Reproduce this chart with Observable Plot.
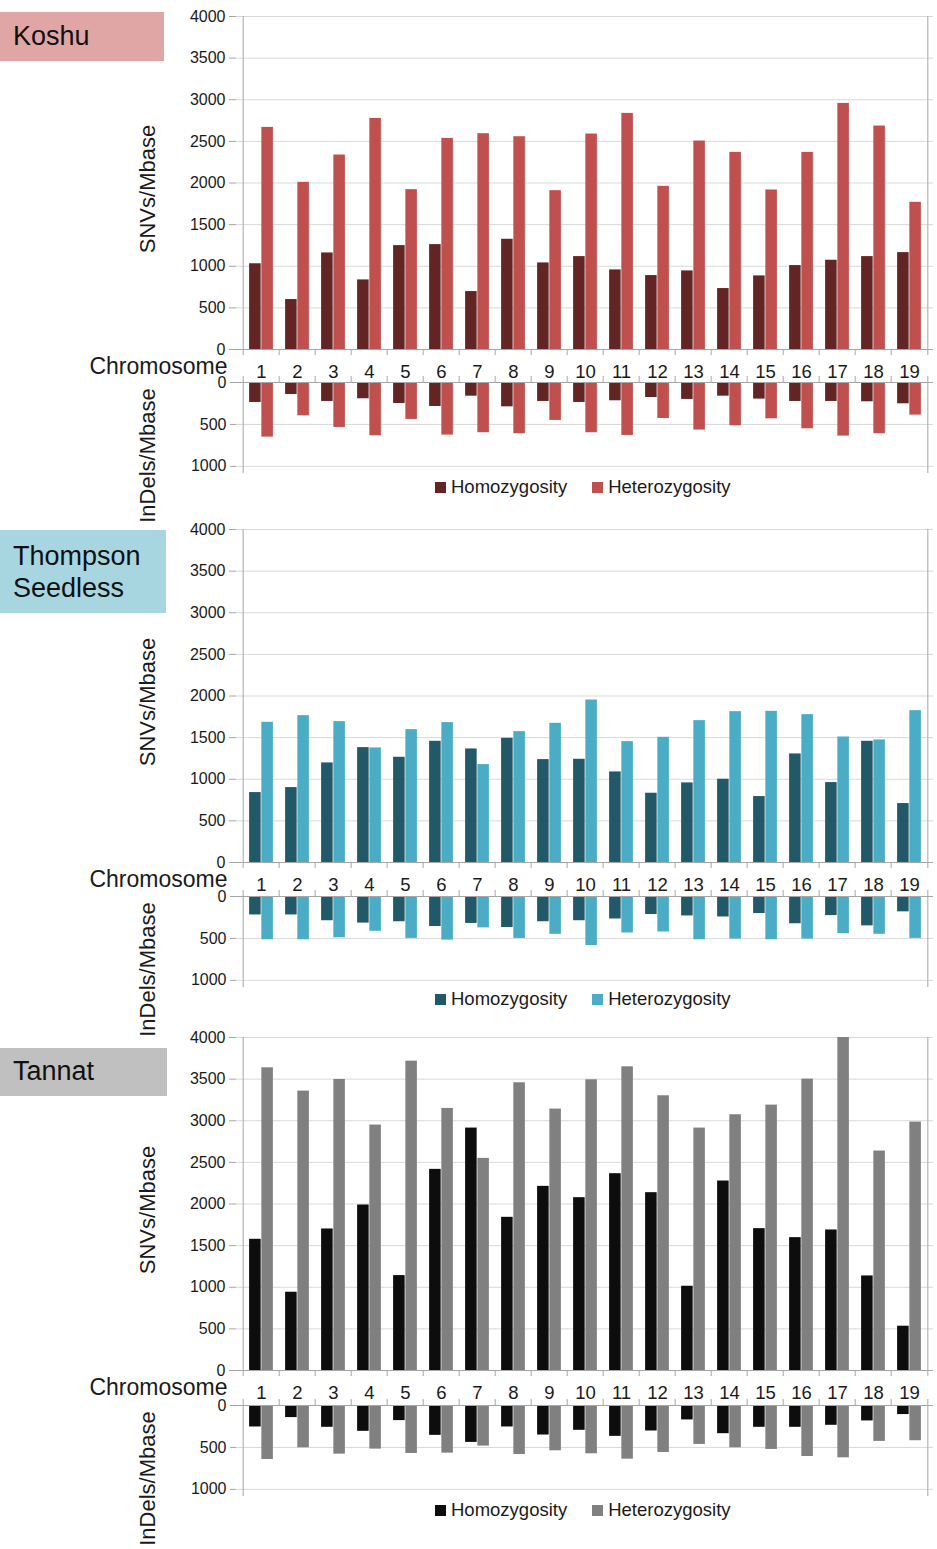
<!DOCTYPE html>
<html><head><meta charset="utf-8">
<script src="https://cdn.jsdelivr.net/npm/d3@7"></script>
<script src="https://cdn.jsdelivr.net/npm/@observablehq/plot@0.6"></script>
<style>
body{margin:0;background:#fff;font-family:"Liberation Sans",Arial,sans-serif;}
#root{position:relative;width:937px;height:1549px;overflow:hidden;background:#fff;}
.panel{position:absolute;left:0;width:937px;height:520px;}
.panel svg{position:absolute;left:0;}
.box{position:absolute;left:0;}
.boxtext{position:absolute;left:13px;font-size:27px;line-height:32px;color:#111;white-space:nowrap;}
.legend{position:absolute;left:435px;display:flex;align-items:center;font-size:18.5px;color:#1a1a1a;white-space:nowrap;}
.sw{width:11px;height:11px;display:inline-block;margin-right:5px;}
</style></head>
<body><div id="root"></div>
<script>
const chromosomes = ["1","2","3","4","5","6","7","8","9","10","11","12","13","14","15","16","17","18","19"];
const seriesNames = ["Homozygosity", "Heterozygosity"];

// Koshu
const koshuSnvHomo  = [1030, 600, 1160, 836, 1248, 1260, 696, 1324, 1040, 1116, 956, 888, 944, 732, 884, 1008, 1072, 1116, 1164];
const koshuSnvHet   = [2668, 2008, 2336, 2776, 1920, 2536, 2592, 2556, 1908, 2588, 2836, 1960, 2504, 2368, 1916, 2368, 2956, 2684, 1768];
const koshuIndelHomo = [238, 143, 226, 194, 250, 286, 163, 290, 226, 238, 218, 179, 202, 163, 198, 226, 226, 230, 254];
const koshuIndelHet  = [651, 397, 536, 635, 440, 627, 599, 611, 452, 599, 631, 429, 567, 516, 433, 552, 639, 611, 389];

// Thompson Seedless
const thompsonSnvHomo = [840, 900, 1196, 1380, 1264, 1456, 1364, 1492, 1236, 1240, 1088, 832, 956, 1000, 792, 1304, 960, 1456, 708];
const thompsonSnvHet  = [1684, 1764, 1692, 1376, 1596, 1680, 1176, 1572, 1672, 1952, 1452, 1504, 1704, 1812, 1816, 1776, 1508, 1472, 1824];
const thompsonIndelHomo = [220, 220, 289, 317, 301, 358, 321, 370, 301, 289, 268, 215, 232, 244, 203, 325, 228, 350, 183];
const thompsonIndelHet  = [516, 516, 492, 415, 500, 520, 374, 500, 451, 585, 435, 423, 516, 508, 516, 508, 443, 451, 500];

// Tannat
const tannatSnvHomo = [1576, 940, 1700, 1988, 1140, 2416, 2912, 1840, 2212, 2076, 2364, 2136, 1012, 2276, 1704, 1596, 1688, 1136, 532];
const tannatSnvHet  = [3636, 3356, 3496, 2948, 3716, 3148, 2548, 3456, 3140, 3492, 3648, 3300, 2912, 3072, 3188, 3500, 4000, 2636, 2984];
const tannatIndelHomo = [256, 144, 260, 308, 180, 356, 440, 256, 352, 296, 368, 304, 172, 336, 260, 260, 236, 184, 108];
const tannatIndelHet  = [644, 504, 580, 520, 572, 568, 484, 584, 540, 576, 640, 560, 464, 504, 524, 608, 624, 428, 420];

const snvTicks = [0, 500, 1000, 1500, 2000, 2500, 3000, 3500, 4000];
const indelTicks = [0, 500, 1000];

const panels = [
  {lines:["Koshu"], top:0, boxTop:11.7, boxH:49.3, boxW:164, boxColor:"#e0a6a6", textTop:20.3,
   homoColor:"#632523", hetColor:"#c0504d",
   snvHomo:koshuSnvHomo, snvHet:koshuSnvHet, indelHomo:koshuIndelHomo, indelHet:koshuIndelHet,
   indelZero:382.3, legendY:487.2},
  {lines:["Thompson","Seedless"], top:513, boxTop:17, boxH:83, boxW:166, boxColor:"#a7d6e1", textTop:26.6,
   homoColor:"#215968", hetColor:"#4bacc6",
   snvHomo:thompsonSnvHomo, snvHet:thompsonSnvHet, indelHomo:thompsonIndelHomo, indelHet:thompsonIndelHet,
   indelZero:382.7, legendY:486},
  {lines:["Tannat"], top:1021.3, boxTop:26.7, boxH:48, boxW:167, boxColor:"#c0c0c0", textTop:34,
   homoColor:"#0d0d0d", hetColor:"#808080",
   snvHomo:tannatSnvHomo, snvHet:tannatSnvHet, indelHomo:tannatIndelHomo, indelHet:tannatIndelHet,
   indelZero:384.2, legendY:489}
];

const W = 937, ML = 236, MR = 4;
const bw = (W - ML - MR) / chromosomes.length;
const pad = bw / 6, barW = bw / 3;
const axisColor = "#a6a6a6", gridColor = "#d9d9d9", textColor = "#1a1a1a";
const font = "'Liberation Sans', Arial, sans-serif";
const fmt = d => String(d);

const root = document.getElementById("root");

for (const p of panels) {
  const panel = document.createElement("div");
  panel.className = "panel";
  panel.style.top = p.top + "px";
  root.appendChild(panel);

  // label box
  const box = document.createElement("div");
  box.className = "box";
  Object.assign(box.style, {top: p.boxTop + "px", height: p.boxH + "px", width: p.boxW + "px", background: p.boxColor});
  panel.appendChild(box);
  const bt = document.createElement("div");
  bt.className = "boxtext";
  bt.style.top = p.textTop + "px";
  bt.innerHTML = p.lines.join("<br>");
  panel.appendChild(bt);

  const snvData = chromosomes.map((c, i) => ({chromosome: c, homo: p.snvHomo[i], het: p.snvHet[i]}));
  const indelData = chromosomes.map((c, i) => ({chromosome: c, homo: p.indelHomo[i], het: p.indelHet[i]}));

  // SNV chart
  const snvMT = 16, snvMB = 41, snvH = 390;
  const snvInner = snvH - snvMT - snvMB;
  const snv = Plot.plot({
    width: W, height: snvH, marginLeft: ML, marginRight: MR, marginTop: snvMT, marginBottom: snvMB,
    style: {background: "transparent", overflow: "visible", fontFamily: font, color: textColor},
    x: {type: "band", domain: chromosomes, padding: 0, label: null},
    y: {domain: [0, 4000], label: null},
    marks: [
      Plot.gridY(snvTicks.slice(1), {stroke: gridColor, strokeOpacity: 1}),
      Plot.barY(snvData, {x: "chromosome", y: "homo", fill: p.homoColor, insetLeft: pad, insetRight: pad + barW}),
      Plot.barY(snvData, {x: "chromosome", y: "het", fill: p.hetColor, insetLeft: pad + barW, insetRight: pad}),
      Plot.ruleY([0], {stroke: axisColor}),
      Plot.ruleX(chromosomes, {x: d => d, dx: -bw / 2, stroke: axisColor, insetTop: snvInner, insetBottom: -6}),
      Plot.ruleX([chromosomes[0]], {x: d => d, dx: -bw / 2, stroke: axisColor}),
      Plot.ruleX([chromosomes[18]], {x: d => d, dx: bw / 2, stroke: axisColor, insetBottom: -6}),
      Plot.axisY(snvTicks, {tickSize: 7, tickPadding: 4, fontSize: 16, stroke: axisColor, fill: textColor, tickFormat: fmt, label: null}),
      Plot.axisX({tickSize: 0, tickPadding: 15, fontSize: 18.5, fill: textColor, label: null}),
      Plot.text(["SNVs/Mbase"], {text: d => d, frameAnchor: "left", textAnchor: "middle", lineAnchor: "middle", rotate: -90, dx: -89, dy: 6, fontSize: 22, fill: textColor}),
      Plot.text(["Chromosome"], {text: d => d, frameAnchor: "bottom-left", textAnchor: "end", lineAnchor: "middle", dx: -9, dy: 17, fontSize: 23, fill: textColor})
    ]
  });
  snv.style.top = "0px";
  panel.appendChild(snv);

  // InDel chart
  const inMT = 10, inMB = 9, inH = 110;
  const inInner = inH - inMT - inMB;
  const indel = Plot.plot({
    width: W, height: inH, marginLeft: ML, marginRight: MR, marginTop: inMT, marginBottom: inMB,
    style: {background: "transparent", overflow: "visible", fontFamily: font, color: textColor},
    x: {type: "band", domain: chromosomes, padding: 0, label: null, axis: null},
    y: {domain: [0, 1085], reverse: true, label: null},
    marks: [
      Plot.gridY(indelTicks.slice(1), {stroke: gridColor, strokeOpacity: 1}),
      Plot.barY(indelData, {x: "chromosome", y: "homo", fill: p.homoColor, insetLeft: pad, insetRight: pad + barW}),
      Plot.barY(indelData, {x: "chromosome", y: "het", fill: p.hetColor, insetLeft: pad + barW, insetRight: pad}),
      Plot.ruleY([0], {stroke: axisColor}),
      Plot.ruleX(chromosomes.slice(1), {x: d => d, dx: -bw / 2, stroke: axisColor, insetTop: -6, insetBottom: inInner}),
      Plot.ruleX([chromosomes[0]], {x: d => d, dx: -bw / 2, stroke: axisColor, insetTop: -6}),
      Plot.ruleX([chromosomes[18]], {x: d => d, dx: bw / 2, stroke: axisColor, insetTop: -6}),
      Plot.axisY(indelTicks, {tickSize: 6, tickPadding: 4, fontSize: 16, stroke: axisColor, fill: textColor, tickFormat: fmt, label: null}),
      Plot.text(["InDels/Mbase"], {text: d => d, frameAnchor: "left", textAnchor: "middle", lineAnchor: "middle", rotate: -90, dx: -89, dy: 27.5, fontSize: 22, fill: textColor})
    ]
  });
  indel.style.top = (p.indelZero - inMT) + "px";
  panel.appendChild(indel);

  // legend
  const lg = document.createElement("div");
  lg.className = "legend";
  lg.style.top = (p.legendY - 11) + "px";
  lg.style.height = "22px";
  lg.innerHTML =
    `<span class="sw" style="background:${p.homoColor}"></span><span>${seriesNames[0]}</span>` +
    `<span class="sw" style="background:${p.hetColor};margin-left:25px"></span><span>${seriesNames[1]}</span>`;
  panel.appendChild(lg);
}
</script>
</body></html>
